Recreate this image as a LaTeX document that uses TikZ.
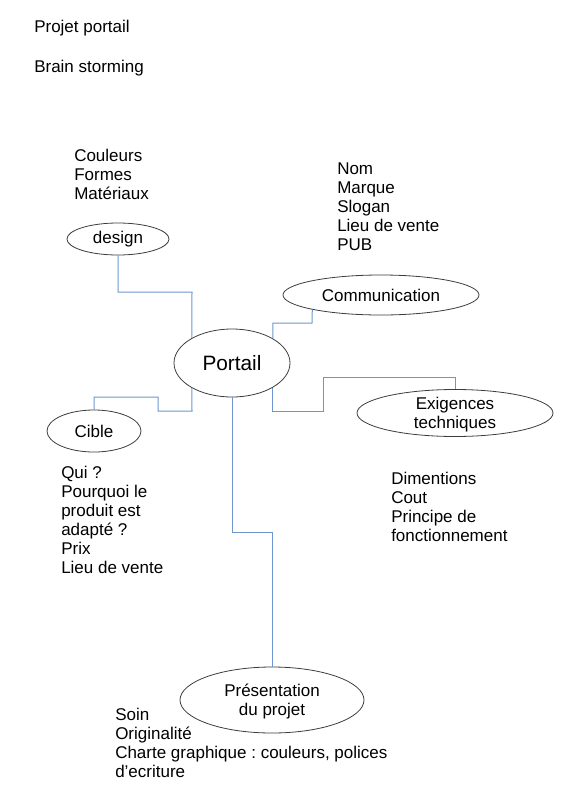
\documentclass[tikz,border=0pt]{standalone}
\usepackage{fontspec}
\setmainfont{Liberation Sans}
\usetikzlibrary{shapes.geometric}
\usetikzlibrary{positioning}
\frenchspacing

\definecolor{linkblue}{RGB}{110,150,205}
\definecolor{rim}{RGB}{60,60,60}

\begin{document}
\begin{tikzpicture}[x=0.75pt, y=-0.75pt,
    every node/.style={font=\fontsize{12.75}{14.25}\selectfont, inner sep=0pt},
    bubble/.style={ellipse, draw=rim, line width=0.6pt},
    notes/.style={align=left, anchor=north west},
    link/.style={draw=linkblue, line width=0.75pt}]
        \useasboundingbox (0,0) rectangle (566,800);

        \node[anchor=base west] (titre) at (34, 32) {Projet portail};
        \node[anchor=base west] (sous) at (34, 72) {Brain storming};

        \node[bubble, minimum width=87pt, minimum height=51pt, font=\fontsize{15.6}{18}\selectfont] (portail) at (232, 363) {Portail};
        \node[bubble, minimum width=76.5pt, minimum height=24pt] (design) at (118, 239) {design};
        \node[bubble, minimum width=70.5pt, minimum height=31.5pt] (cible) at (94, 431) {Cible};
        \node[bubble, minimum width=147pt, minimum height=30pt] (comm) at (381, 295) {Communication};
        \node[bubble, minimum width=147pt, minimum height=35.25pt, align=center, inner ysep=-5pt] (exig) at (455, 413) {\rule{0pt}{12pt}Exigences\\techniques};
        \node[bubble, minimum width=138pt, minimum height=49.5pt, align=center, inner ysep=-3pt] (pres) at (272, 700) {\rule{0pt}{12pt}Présentation\\du projet};

        \node[notes] (designtxt) at (74, 149) {Couleurs\\Formes\\Matériaux};
        \node[notes] (commtxt) at (337, 163) {Nom\\Marque\\Slogan\\Lieu de vente\\PUB};
        \node[notes] (cibletxt) at (61, 466) {Qui ?\\Pourquoi le\\produit est\\adapté ?\\Prix\\Lieu de vente};
        \node[notes] (exigtxt) at (391, 472) {Dimentions\\Cout\\Principe de\\fonctionnement};
        \node[notes] (prestxt) at (115, 708) {Soin\\Originalité\\Charte graphique : couleurs, polices\\d'ecriture};

        % liaisons
        \draw[link] (design.south) |- (192, 292) -- (portail.148);
        \draw[link] (cible.north) |- (158, 397) |- (192, 411) -- (portail.212);
        \draw[link] (portail.31) |- (312, 323) -- (comm.192);
        \draw[link] (portail.329) |- (323, 411) |- (455, 377) -- (exig.north);
        \draw[link] (portail.south) |- (272, 532) -- (pres.north);
      \end{tikzpicture}
\end{document}
